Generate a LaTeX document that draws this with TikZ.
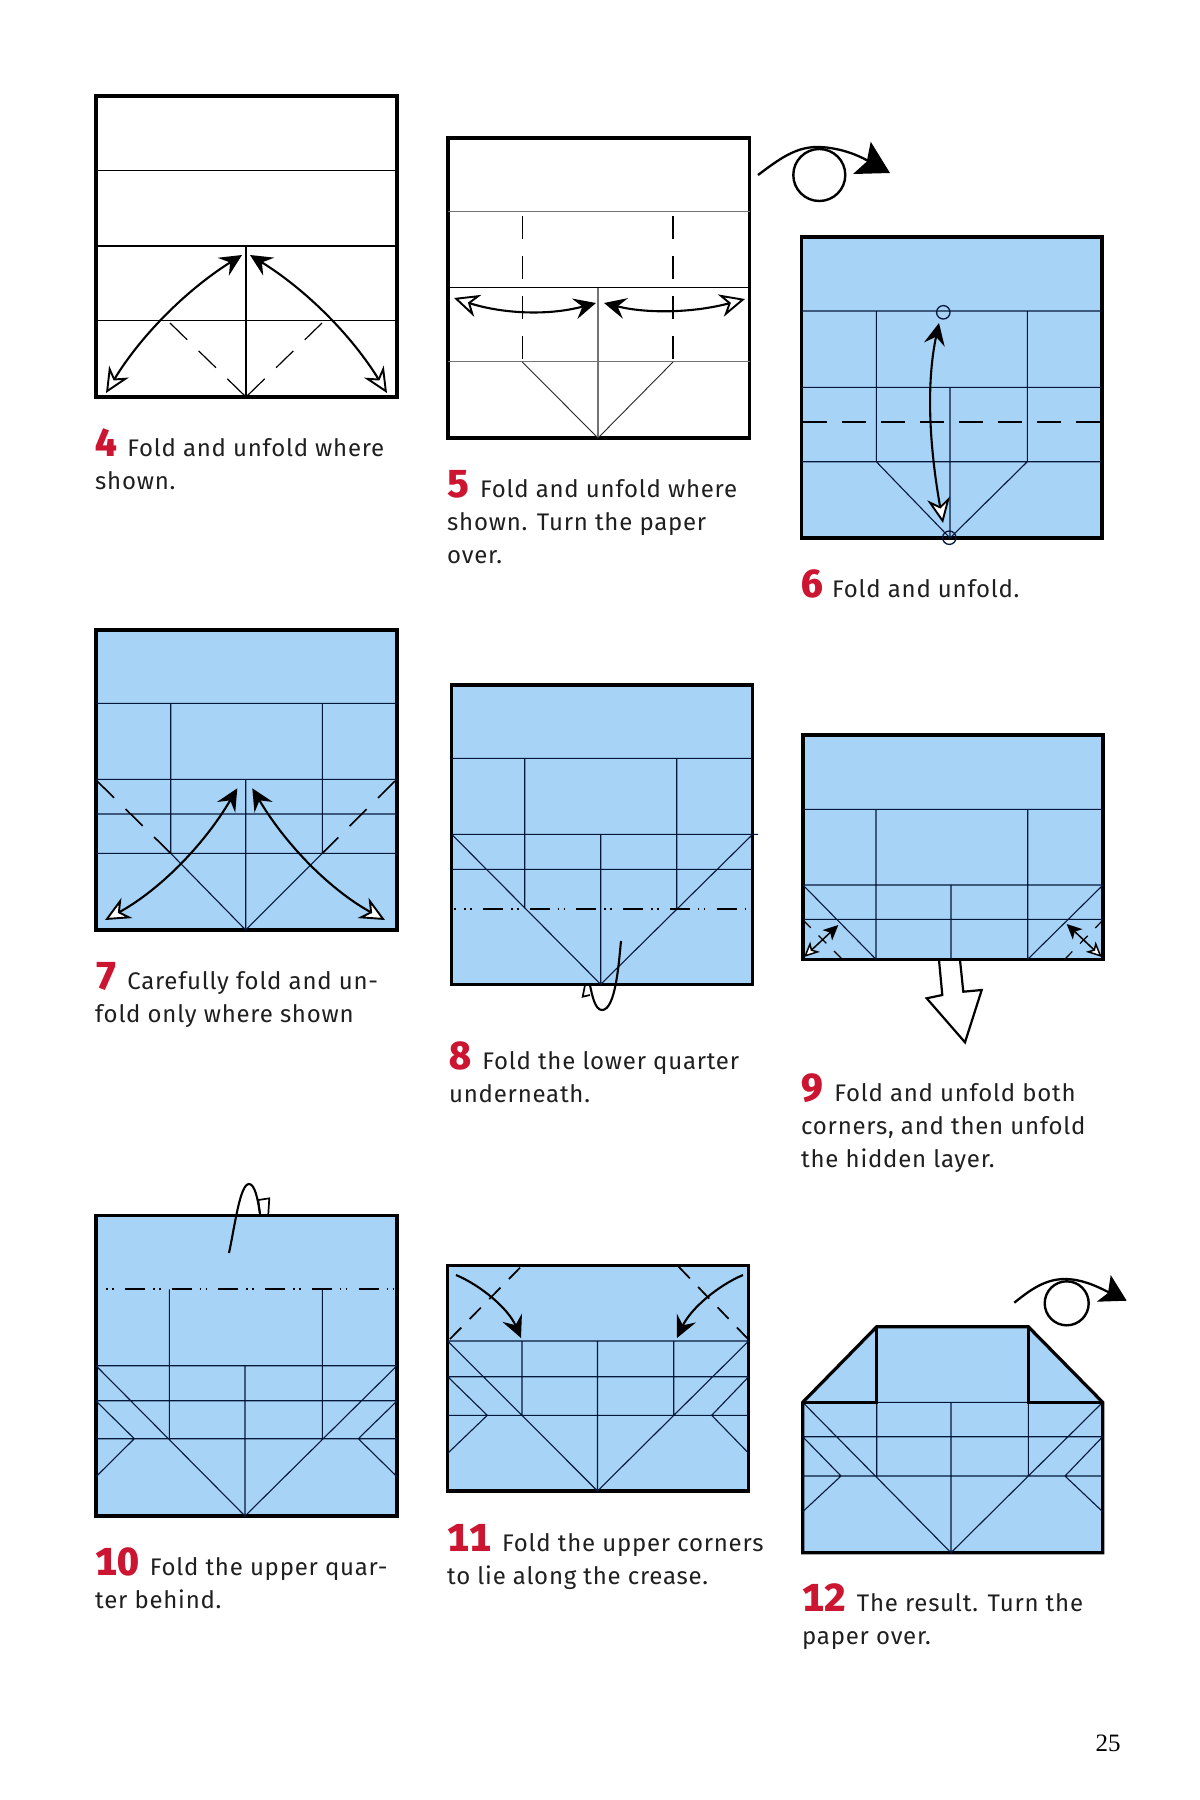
\documentclass[tikz,border=0pt]{standalone}
\usepackage{fontspec}
\usetikzlibrary{arrows.meta}
\setmainfont{Liberation Serif}
\newfontfamily\capfam[LetterSpace=3.2]{Fira Sans}
\newfontfamily\numfam[Numbers=Monospaced]{Fira Sans ExtraBold}
\definecolor{paperblue}{HTML}{A6D3F6}
\definecolor{numred}{HTML}{CC1530}
\definecolor{creaseink}{HTML}{06183A}
\newcommand{\capnum}[2]{\strut\makebox[#1pt][l]{\smash{\fontsize{39}{39}\numfam\textcolor{numred}{#2}}}}
\tikzset{
  x=1pt,y=-1pt,
  whitepaper/.style={draw=black,line width=3.6pt,fill=white},
  bluepaper/.style={draw=black,line width=3.2pt,fill=paperblue},
  crease/.style={draw=creaseink,line width=1.1pt},
  greycrease/.style={draw=black!55,line width=1.2pt},
  valley/.style={draw=black,line width=1.9pt,dash pattern=on 24pt off 15pt},
  valleydiag/.style={draw=black,line width=1.6pt,dash pattern=on 24pt off 16pt},
  shortvalley/.style={draw=black,line width=1.7pt,dash pattern=on 16pt off 12pt},
  smallvalley/.style={draw=black,line width=1.2pt,dash pattern=on 11pt off 11pt},
  mountain/.style={draw=black,line width=2.2pt,dash pattern=on 20pt off 8pt on 1.5pt off 4.5pt on 1.5pt off 11.2pt},
  foldarrow/.style={draw=black,line width=2.1pt},
  bothtips/.style={foldarrow,{Stealth[open,fill=white,length=25pt,width=23pt,inset=8pt,line width=1.9pt]}-{Stealth[length=22pt,width=21pt,inset=8pt]}},
  smalltips/.style={draw=black,line width=1.5pt,{Stealth[open,fill=white,length=15pt,width=14pt,inset=4pt,line width=1.5pt]}-{Stealth[length=15pt,width=14pt,inset=4pt]}},
  onetip/.style={foldarrow,-{Stealth[length=22pt,width=21pt,inset=8pt]}},
  turnline/.style={draw=black,line width=2.3pt},
  turnhead/.style={fill=black},
  turncircle/.style={draw=black,line width=2.4pt},
  smallring/.style={draw=creaseink,line width=1.3pt},
  openhead/.style={draw=black,line width=1.7pt,fill=white,line join=miter},
  blockarrow/.style={draw=black,line width=2.2pt,fill=white,line join=miter},
  capt/.style={anchor=north west,inner sep=0pt,align=left,text=black!88,font=\capfam\fontsize{24}{33}\selectfont},
  pagenum/.style={inner sep=0pt,font=\fontsize{25}{28}\selectfont}
}
\begin{document}
\begin{tikzpicture}
\useasboundingbox (0,0) rectangle (1200,1800);
\fill[white] (0,0) rectangle (1200,1800);

% ---------- 4
\draw[whitepaper] (96,96) rectangle (397,397);
\draw[crease,draw=black] (96,170.5) -- (397,170.5) (96,246) -- (397,246) (96,320.5) -- (397,320.5) (246,246) -- (246,397);
\draw[valleydiag,line width=1.2pt] (170,323) -- (246,397);
\draw[valleydiag,line width=1.2pt] (322,323) -- (246,397);
\draw[bothtips] (106,393) .. controls (140.4,336.3) and (185.7,290.3) .. (242,255);
\draw[bothtips] (387,393) .. controls (352.2,336.3) and (307,290.3) .. (250,255);
\node[capt] (cap4) at (95,433.6) {\capnum{32.2}{4}Fold and unfold where\\\strut shown.};

% ---------- 5
\draw[whitepaper] (448,138) rectangle (749.5,438);
\draw[greycrease] (448,211.5) -- (749.5,211.5) (448,361.5) -- (749.5,361.5) (598,287) -- (598,438);
\draw[crease,draw=black] (448,287.3) -- (749.5,287.3);
\draw[valley,dash pattern=on 23pt off 17pt,line width=1.1pt] (522.3,216) -- (522.3,362);
\draw[valley,dash pattern=on 23pt off 17pt] (673,216) -- (673,362);
\draw[crease,line width=0.9pt,draw=black!85] (522.3,362) -- (598,438) -- (673,362);
\draw[bothtips] (454,298) .. controls (497.3,312.3) and (544,317) .. (596,303);
\draw[bothtips] (745,299) .. controls (696,312.3) and (649,314.3) .. (604,303);
\node[capt] (cap5) at (447,474.2) {\capnum{33}{5}Fold and unfold where\\\strut shown. Turn the paper\\\strut over.};

% ---------- turn over 5/6
\draw[turnline] (758,175) .. controls (778,160) and (795,147) .. (817,147) .. controls (835,147) and (855,153) .. (870,162);
\fill[turnhead] (890,173) -- (870.7,141.7) -- (866.7,161.7) -- (853,174) -- cycle;
\draw[turncircle] (819.3,175) circle [radius=26];

% ---------- 6
\draw[bluepaper] (801.5,237) rectangle (1102,538);
\draw[crease] (801.5,311) -- (1102,311) (801.5,387.3) -- (1102,387.3) (801.5,461.7) -- (1102,461.7)
  (876.3,311) -- (876.3,461.7) (1027.3,311) -- (1027.3,461.7) (950,387.3) -- (950,538)
  (876.3,461.7) -- (950,538) -- (1027.3,461.7);
\draw[valley] (803,421.7) -- (1101,421.7);
\draw[smallring] (943.3,312.3) circle [radius=6.7];
\draw[smallring] (949.3,537.7) circle [radius=6.7];
\draw[bothtips] (943,523) .. controls (929.3,445.7) and (926,383.7) .. (939,323);
\node[capt] (cap6) at (801,574.2) {\capnum{31}{6}Fold and unfold.};

% ---------- 7
\draw[bluepaper] (96,630) rectangle (397,930);
\draw[crease] (96,703.3) -- (397,703.3) (96,779.3) -- (397,779.3) (96,814) -- (397,814) (96,853.3) -- (397,853.3)
  (170.7,703.3) -- (170.7,853.3) (322.3,703.3) -- (322.3,853.3) (245.7,779.3) -- (245.7,930)
  (170.7,853.3) -- (245.7,930) -- (322.3,853.3);
\draw[valleydiag] (97,781) -- (170.7,853.3);
\draw[valleydiag] (395,781) -- (322.3,853.3);
\draw[bothtips] (105,920) .. controls (158.3,890.7) and (202.9,846.8) .. (237.3,788.3);
\draw[bothtips] (385,920) .. controls (331.7,890.7) and (287,846.8) .. (252.3,788.3);
\node[capt] (cap7) at (95,966.2) {\capnum{32.2}{7}Carefully fold and un-\\\strut fold only where shown};

% ---------- 8
\draw[openhead] (585,985) -- (582.7,996.7) -- (590,995);
\draw[bluepaper] (451.7,685) rectangle (752.7,984.3);
\draw[crease] (451.7,758.3) -- (752.7,758.3) (451.7,834.3) -- (758,834.3) (451.7,869.3) -- (752.7,869.3)
  (524.7,758.3) -- (524.7,908.7) (676.7,758.3) -- (676.7,908.7) (600.7,834.3) -- (600.7,984.3)
  (451.7,834.3) -- (600.7,984.3) -- (752.7,834.3);
\draw[mountain,dash phase=17.7pt] (454,908.7) -- (751,908.7);
\draw[foldarrow] (621,941) .. controls (619,960) and (616,1010) .. (602,1010) .. controls (595,1010) and (592,995) .. (590,985);
\node[capt] (cap8) at (449,1046.2) {\capnum{33.2}{8}Fold the lower quarter\\\strut underneath.};

% ---------- 9
\draw[blockarrow] (939,960) -- (942.3,995) -- (926.7,998.3) -- (965,1042.3) -- (981.7,990) -- (963.3,991.7) -- (960,960);
\draw[bluepaper] (803,735) rectangle (1103,959.3);
\draw[crease] (803,809.3) -- (1103,809.3) (803,885) -- (1103,885) (803,919.3) -- (1103,919.3)
  (876,809.3) -- (876,959.3) (1027.7,809.3) -- (1027.7,959.3) (951,885) -- (951,959.3)
  (803,885) -- (876,959.3) (1103,885) -- (1027.7,959.3);
\draw[smallvalley] (803,920) -- (842,959);
\draw[smallvalley] (1103,920) -- (1065,959);
\draw[smalltips] (804,957) -- (838.3,925);
\draw[smalltips] (1101.7,957) -- (1066.7,924);
\node[capt] (cap9) at (801,1078.6) {\capnum{33.2}{9}Fold and unfold both\\\strut corners, and then unfold\\\strut the hidden layer.};

% ---------- 10
\draw[openhead] (260,1214) -- (258.3,1200) -- (269.3,1198.3) -- (268.3,1214);
\draw[bluepaper] (96,1215.5) rectangle (397,1516);
\draw[crease] (96,1365.7) -- (397,1365.7) (96,1400.7) -- (397,1400.7) (96,1438.7) -- (397,1438.7)
  (169.3,1289.3) -- (169.3,1438.7) (322.3,1289.3) -- (322.3,1438.7) (245,1365.7) -- (245,1516)
  (96,1365.7) -- (245,1516) -- (397,1365.7)
  (96,1401) -- (134.3,1438.7) -- (96,1476.7)
  (397,1401) -- (358.3,1438.7) -- (397,1476.7);
\draw[mountain,dash phase=21.7pt] (100,1289.3) -- (394,1289.3);
\draw[foldarrow] (229,1253) .. controls (235,1225) and (240,1184) .. (249,1184) .. controls (255,1184) and (258,1200) .. (260,1214);
\node[capt] (cap10) at (95,1552.6) {\capnum{54.7}{10}Fold the upper quar-\\\strut ter behind.};

% ---------- 11
\draw[bluepaper] (447.7,1265.7) rectangle (748.7,1491);
\draw[crease] (447.7,1341) -- (748.7,1341) (447.7,1376.7) -- (748.7,1376.7) (447.7,1415.3) -- (748.7,1415.3)
  (522,1341) -- (522,1415.3) (673.7,1341) -- (673.7,1415.3) (597.5,1341) -- (597.5,1491)
  (447.7,1341) -- (597.5,1491) -- (748.7,1341)
  (447.7,1376.7) -- (487.3,1415.3) -- (447.7,1453.3)
  (748.7,1376.7) -- (711.7,1415.3) -- (748.7,1453.3);
\draw[shortvalley] (450,1339) -- (521.7,1266);
\draw[shortvalley] (748,1339) -- (678,1266);
\draw[onetip] (456,1275) .. controls (480,1285) and (508,1308) .. (521,1338);
\draw[onetip] (743,1275) .. controls (719,1285) and (691,1308) .. (677,1338);
\node[capt] (cap11) at (447,1527.9) {\capnum{55}{11}Fold the upper corners\\\strut to lie along the crease.};

% ---------- 12
\draw[turnline] (1014.3,1302.7) .. controls (1030,1290) and (1045,1279) .. (1065,1279) .. controls (1080,1279) and (1095,1285) .. (1110,1293);
\fill[turnhead] (1126.7,1300.7) -- (1110.7,1275) -- (1108,1293) -- (1096.7,1301.7) -- cycle;
\draw[turncircle] (1066.7,1303.3) circle [radius=22];
\draw[bluepaper,line join=miter] (802.7,1552.7) -- (802.7,1402.3) -- (876.7,1326.7) -- (1028.3,1326.7) -- (1102.7,1402.3) -- (1102.7,1552.7) -- cycle;
\draw[crease] (876.7,1402.3) -- (1028.3,1402.3) (802.7,1436.7) -- (1102.7,1436.7) (802.7,1476) -- (1102.7,1476)
  (876.7,1402.3) -- (876.7,1476) (1028.3,1402.3) -- (1028.3,1476) (951,1402.3) -- (951,1552.7)
  (802.7,1402.3) -- (951,1552.7) -- (1102.7,1402.3)
  (802.7,1436.7) -- (841,1476) -- (802.7,1511.7)
  (1102.7,1436.7) -- (1065,1476) -- (1102.7,1511.7);
\draw[draw=black,line width=3.2pt,line join=miter] (802.7,1402.3) -- (876.7,1402.3) -- (876.7,1326.7);
\draw[draw=black,line width=3.2pt,line join=miter] (1028.3,1326.7) -- (1028.3,1402.3) -- (1102.7,1402.3);
\node[capt] (cap12) at (802,1588.6) {\capnum{54.7}{12}The result. Turn the\\\strut paper over.};

% ---------- page number
\node[pagenum] (page) at (1108,1743.5) {25};
\end{tikzpicture}
\end{document}
